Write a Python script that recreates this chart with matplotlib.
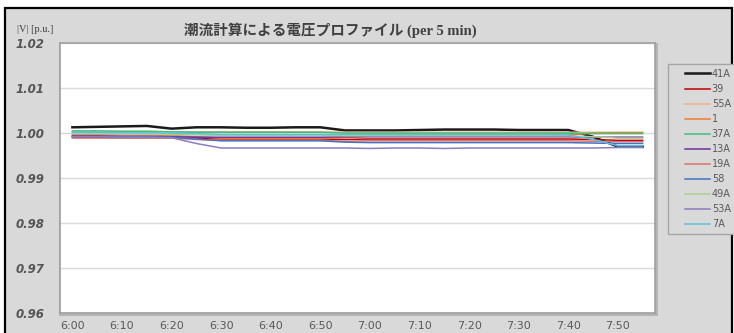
import matplotlib
matplotlib.use("Agg")
import numpy as np
import matplotlib.pyplot as plt
from matplotlib.patches import Rectangle
from matplotlib.lines import Line2D
from matplotlib.legend_handler import HandlerLine2D

# ---- data ----
times = ["6:00", "6:05", "6:10", "6:15", "6:20", "6:25", "6:30", "6:35", "6:40", "6:45",
         "6:50", "6:55", "7:00", "7:05", "7:10", "7:15", "7:20", "7:25", "7:30", "7:35",
         "7:40", "7:45", "7:50", "7:55"]
tick_labels = ["6:00", "6:10", "6:20", "6:30", "6:40", "6:50", "7:00", "7:10", "7:20",
               "7:30", "7:40", "7:50"]

s41A = [1.0012, 1.0013, 1.0014, 1.0015, 1.0009, 1.0012, 1.0012, 1.0011, 1.0011, 1.0012,
        1.0012, 1.0005, 1.0005, 1.0005, 1.0006, 1.0007, 1.0007, 1.0007, 1.0006, 1.0006,
        1.0006, 0.9991, 0.9969, 0.9969]
s39 = [0.9990, 0.9990, 0.9989, 0.9989, 0.9989, 0.9987, 0.9986, 0.9986, 0.9986, 0.9986,
       0.9986, 0.9985, 0.9986, 0.9986, 0.9986, 0.9986, 0.9986, 0.9986, 0.9986, 0.9986,
       0.9986, 0.9985, 0.9983, 0.9983]
s55A = [1.0003, 1.0003, 1.0003, 1.0003, 1.0002, 1.0002, 1.0002, 1.0002, 1.0002, 1.0002,
        1.0002, 1.0001, 1.0001, 1.0001, 1.0001, 1.0001, 1.0001, 1.0001, 1.0001, 1.0001,
        1.0001, 1.0001, 1.0001, 1.0001]
s1 = [0.9996, 0.9996, 0.9995, 0.9995, 0.9994, 0.9991, 0.9988, 0.9988, 0.9988, 0.9988,
      0.9988, 0.9989, 0.9992, 0.9993, 0.9993, 0.9993, 0.9994, 0.9994, 0.9994, 0.9994,
      0.9995, 0.9999, 1.0000, 1.0000]
s37A = [1.0004, 1.0004, 1.0003, 1.0003, 1.0002, 1.0001, 1.0001, 1.0001, 1.0001, 1.0001,
        1.0001, 0.9999, 0.9999, 0.9999, 0.9999, 0.9999, 0.9999, 0.9999, 0.9999, 0.9999,
        0.9999, 0.9998, 0.9998, 0.9998]
s13A = [0.9993, 0.9993, 0.9992, 0.9992, 0.9991, 0.9990, 0.9990, 0.9990, 0.9990, 0.9990,
        0.9990, 0.9991, 0.9991, 0.9991, 0.9991, 0.9991, 0.9991, 0.9991, 0.9991, 0.9991,
        0.9991, 0.9990, 0.9990, 0.9990]
s19A = [0.9988, 0.9988, 0.9988, 0.9988, 0.9988, 0.9985, 0.9983, 0.9983, 0.9983, 0.9983,
        0.9983, 0.9981, 0.9982, 0.9982, 0.9982, 0.9982, 0.9982, 0.9982, 0.9982, 0.9982,
        0.9982, 0.9981, 0.9980, 0.9980]
s58 = [0.9992, 0.9992, 0.9991, 0.9991, 0.9990, 0.9986, 0.9982, 0.9982, 0.9982, 0.9982,
       0.9982, 0.9979, 0.9978, 0.9978, 0.9978, 0.9978, 0.9978, 0.9978, 0.9978, 0.9978,
       0.9978, 0.9977, 0.9976, 0.9976]
s49A = [0.9998, 0.9998, 0.9997, 0.9997, 0.9996, 0.9995, 0.9994, 0.9994, 0.9994, 0.9994,
        0.9994, 0.9993, 0.9993, 0.9993, 0.9993, 0.9993, 0.9993, 0.9993, 0.9993, 0.9993,
        0.9993, 0.9991, 0.9988, 0.9988]
s53A = [0.9991, 0.9991, 0.9990, 0.9990, 0.9989, 0.9976, 0.9966, 0.9966, 0.9966, 0.9966,
        0.9966, 0.9966, 0.9965, 0.9966, 0.9966, 0.9965, 0.9966, 0.9966, 0.9966, 0.9966,
        0.9966, 0.9966, 0.9967, 0.9967]
s7A = [1.0001, 1.0001, 1.0000, 1.0000, 0.9999, 0.9998, 0.9996, 0.9996, 0.9996, 0.9996,
       0.9996, 0.9996, 0.9996, 0.9996, 0.9996, 0.9996, 0.9996, 0.9996, 0.9996, 0.9996,
       0.9995, 0.9985, 0.9971, 0.9971]

series_names = ["41A", "39", "55A", "1", "37A", "13A", "19A", "58", "49A", "53A", "7A"]
series_values = [s41A, s39, s55A, s1, s37A, s13A, s19A, s58, s49A, s53A, s7A]
series_colors = ["#1a1a1a", "#c00000", "#f4b183", "#ed7d31", "#3cc07a", "#7030a0",
                 "#d9736f", "#4472c4", "#a9d18e", "#8e7cc3", "#5bc0de"]
series_widths = [1.8, 1.1, 1.1, 1.1, 1.1, 1.1, 1.1, 1.1, 1.1, 1.1, 1.1]

y_ticks = [0.96, 0.97, 0.98, 0.99, 1.00, 1.01, 1.02]


class OffsetLineHandler(HandlerLine2D):
    """Legend line drawn only on the right part of the handle box."""
    def create_artists(self, legend, orig_handle, xdescent, ydescent, width, height,
                       fontsize, trans):
        artists = super().create_artists(legend, orig_handle, xdescent, ydescent,
                                         width, height, fontsize, trans)
        for a in artists:
            if isinstance(a, Line2D):
                xd = np.asarray(a.get_xdata(), dtype=float)
                if len(xd) >= 2:
                    x0, x1 = xd.min(), xd.max()
                    new0 = x0 + 0.32 * (x1 - x0)
                    a.set_xdata(new0 + (xd - x0) * (x1 - new0) / (x1 - x0))
        return artists


# ---- figure ----
W, H = 734, 333
fig = plt.figure(figsize=(W / 100, H / 100), dpi=100)
fig.patch.set_facecolor("white")

# outer chart background with black frame
fig.add_artist(Rectangle((5 / W, -0.02), 727 / W, 1.02 - 8 / H,
                         transform=fig.transFigure, facecolor="#d9d9d9",
                         edgecolor="black", linewidth=1.6, zorder=-2))

ax_l, ax_r, ax_t, ax_b = 60, 655, 42.7, 312.7
# soft shadow around plot area
fig.add_artist(Rectangle(((ax_l - 1) / W, (H - ax_b - 3) / H), (ax_r - ax_l + 4) / W,
                         (ax_b - ax_t + 3) / H, transform=fig.transFigure,
                         facecolor="#b5b5b5", edgecolor="none", zorder=-1))
ax = fig.add_axes([ax_l / W, (H - ax_b) / H, (ax_r - ax_l) / W, (ax_b - ax_t) / H])
ax.set_facecolor("white")
for sp in ax.spines.values():
    sp.set_color("#a0a0a0")
    sp.set_linewidth(1.2)

x = list(range(len(times)))
for name, vals, col, lw in zip(series_names, series_values, series_colors, series_widths):
    ax.plot(x, vals, color=col, linewidth=lw, label=name, solid_joinstyle="round")

ax.set_xlim(-0.5, len(times) - 0.5)
ax.set_ylim(0.96, 1.02)
ax.set_yticks(y_ticks)
ax.set_yticklabels([f"{v:.2f}" for v in y_ticks])
ax.set_xticks([times.index(t) for t in tick_labels])
ax.set_xticklabels(tick_labels)
ax.grid(axis="y", color="#d9d9d9", linewidth=1.0)
ax.set_axisbelow(True)
ax.tick_params(axis="both", length=0)
ax.tick_params(axis="y", pad=11, labelsize=8.5, labelcolor="#555555")
ax.tick_params(axis="x", pad=6, labelsize=8, labelcolor="#595959")
narrow = ["Liberation Sans Narrow", "DejaVu Sans"]
for lab in ax.get_yticklabels():
    lab.set_family(narrow)
    lab.set_style("italic")
    lab.set_weight("bold")
for lab in ax.get_xticklabels():
    lab.set_family(narrow)

fig.text(330 / W, 1 - 30 / H, "潮流計算による電圧プロファイル (per 5 min)",
         family=["Liberation Serif", "Noto Sans CJK JP"], weight="bold",
         fontsize=10.5, color="#404040", ha="center", va="center")
fig.text(17 / W, 1 - 30 / H, "|V| [p.u.]", family=["Liberation Serif"],
         fontsize=7.5, color="#404040", ha="left", va="center")

leg = fig.legend(loc="upper left", bbox_to_anchor=(668 / W, 1 - 64 / H),
                 prop={"family": narrow, "size": 7}, labelcolor="#595959",
                 frameon=True, fancybox=False, edgecolor="#a6a6a6",
                 facecolor="#d9d9d9", framealpha=1, handlelength=3.8,
                 handletextpad=0.2, labelspacing=0.52, borderpad=0.5,
                 borderaxespad=0, handler_map={Line2D: OffsetLineHandler()})
leg.get_frame().set_linewidth(1.0)

fig.savefig("out.png", dpi=100)
